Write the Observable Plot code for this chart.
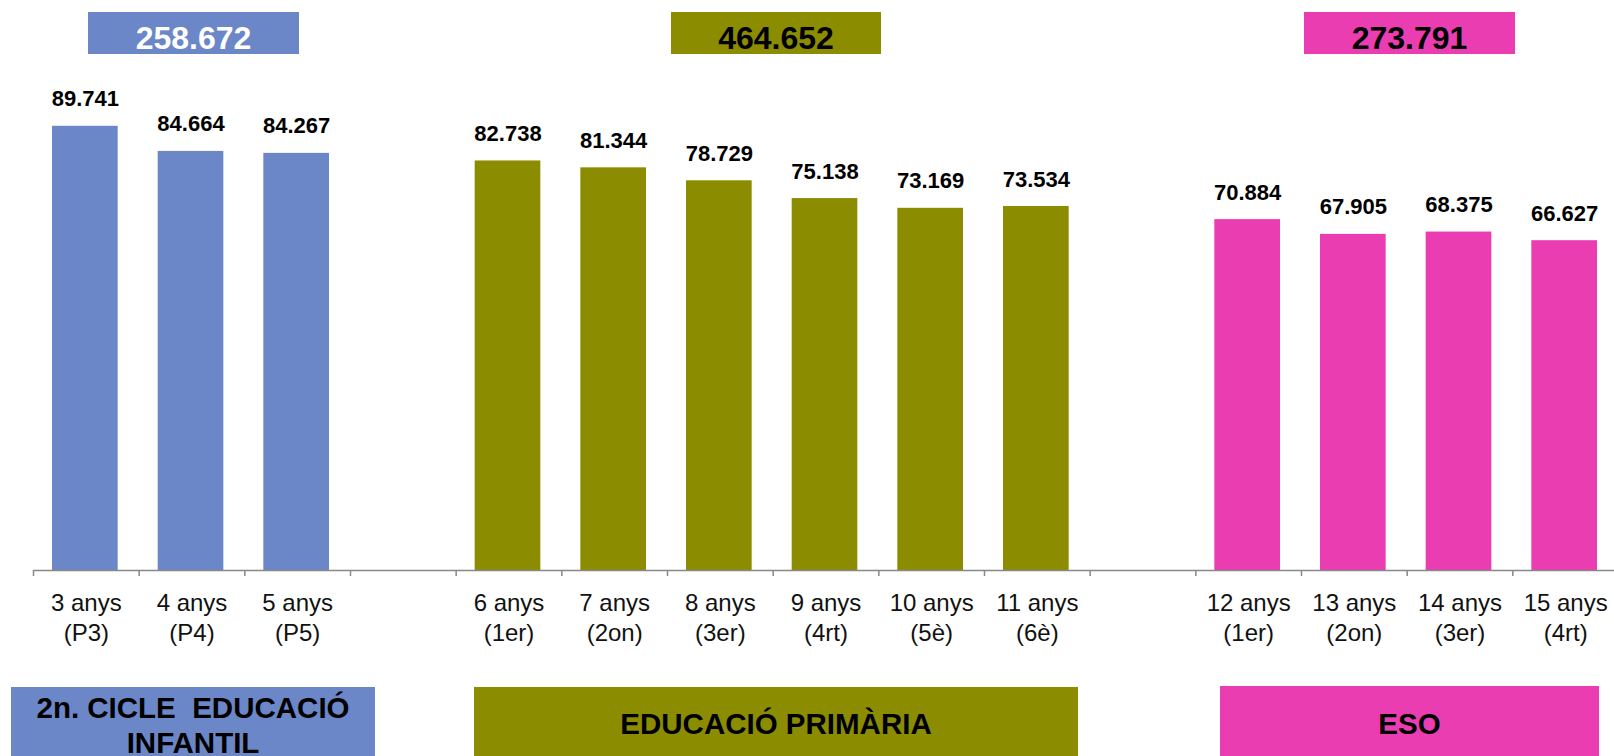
<!DOCTYPE html>
<html><head><meta charset="utf-8">
<script src="https://cdn.jsdelivr.net/npm/d3@7"></script>
<script src="https://cdn.jsdelivr.net/npm/@observablehq/plot@0.6"></script>
<style>
html,body{margin:0;padding:0;background:#fff;overflow:hidden}
#chart{position:relative;width:1614px;height:756px}
</style></head><body><div id="chart"></div>
<script>
// ---- data ----
const ageLabels = ["3 anys","4 anys","5 anys",null,"6 anys","7 anys","8 anys","9 anys","10 anys","11 anys",null,"12 anys","13 anys","14 anys","15 anys"];
const courseLabels = ["(P3)","(P4)","(P5)",null,"(1er)","(2on)","(3er)","(4rt)","(5è)","(6è)",null,"(1er)","(2on)","(3er)","(4rt)"];
const students = [89741,84664,84267,null,82738,81344,78729,75138,73169,73534,null,70884,67905,68375,66627];
const stageOf = ["inf","inf","inf",null,"pri","pri","pri","pri","pri","pri",null,"eso","eso","eso","eso"];
const stageKeys = ["inf","pri","eso"];
const stageNames = [["2n. CICLE  EDUCACIÓ","INFANTIL"],["EDUCACIÓ PRIMÀRIA"],["ESO"]];
const stageTotals = [258672,464652,273791];

// ---- styles / layout ----
const stageColors = ["#6b87c8","#8c8c00","#ea3db1"];
const totalTextColors = ["#ffffff","#000000","#000000"];
const topBoxes = [{x:88,w:211},{x:671,w:210},{x:1304,w:211}];
const bottomBoxes = [{x:11,w:364,y:687,base:[718,753]},{x:474,w:604,y:687,base:[734]},{x:1220,w:379,y:686,base:[734]}];
const FONT = "'Liberation Sans', Arial, Helvetica, sans-serif";

const fmt = d3.formatLocale({decimal:",",thousands:".",grouping:[3],currency:["","€"]}).format(",d");

const slots = ageLabels.map((a,i)=>i);
const rows = slots.filter(i=>students[i]!=null).map(i=>({slot:i, value:students[i], stage:stageOf[i]}));

const W=1614,H=756,ML=33,MR=-4,MT=75,MB=186;
const step=(W-ML-MR)/slots.length;

const svg = Plot.plot({
  width:W,height:H,marginLeft:ML,marginRight:MR,marginTop:MT,marginBottom:MB,
  style:{fontFamily:FONT, background:"#fff", color:"#000"},
  x:{type:"band",domain:slots,padding:0,round:false},
  y:{domain:[0,100000],axis:null},
  color:{domain:stageKeys,range:stageColors},
  marks:[
    Plot.barY(rows,{x:"slot",y:"value",fill:"stage",insetLeft:19,insetRight:21}),
    Plot.ruleY([0],{stroke:"#888",strokeWidth:1.5}),
    Plot.ruleX(slots,{x:d=>d,y1:0,y2:0,insetBottom:-6,dx:-step/2,stroke:"#888",strokeWidth:1.5}),
    Plot.text(rows,{x:"slot",y:"value",text:d=>fmt(d.value),lineAnchor:"bottom",dy:-20,dx:-1,fontSize:22,fontWeight:"bold",fill:"#000"}),
    Plot.axisX({tickSize:0,tickPadding:19,fontSize:24,lineHeight:1.25,fill:"#111",
      tickFormat:i=>ageLabels[i]?ageLabels[i]+"\n"+courseLabels[i]:""})
  ]
});
document.getElementById("chart").appendChild(svg);

// ---- stage boxes (annotations) ----
const s = d3.select(svg);
const g = s.append("g").attr("font-family",FONT).attr("font-weight","bold").attr("text-anchor","middle");
stageKeys.forEach((k,i)=>{
  const tb = topBoxes[i];
  g.append("rect").attr("x",tb.x).attr("y",12).attr("width",tb.w).attr("height",42).attr("fill",stageColors[i]);
  g.append("text").attr("x",tb.x+tb.w/2).attr("y",49).attr("font-size",32).attr("fill",totalTextColors[i]).text(fmt(stageTotals[i]));
  const bb = bottomBoxes[i];
  g.append("rect").attr("x",bb.x).attr("y",bb.y).attr("width",bb.w).attr("height",H-bb.y+10).attr("fill",stageColors[i]);
  stageNames[i].forEach((line,j)=>{
    g.append("text").attr("x",bb.x+bb.w/2).attr("y",bb.base[j]).attr("font-size",29.5).attr("fill","#000")
      .style("white-space","pre").text(line);
  });
});
</script>
</body></html>
